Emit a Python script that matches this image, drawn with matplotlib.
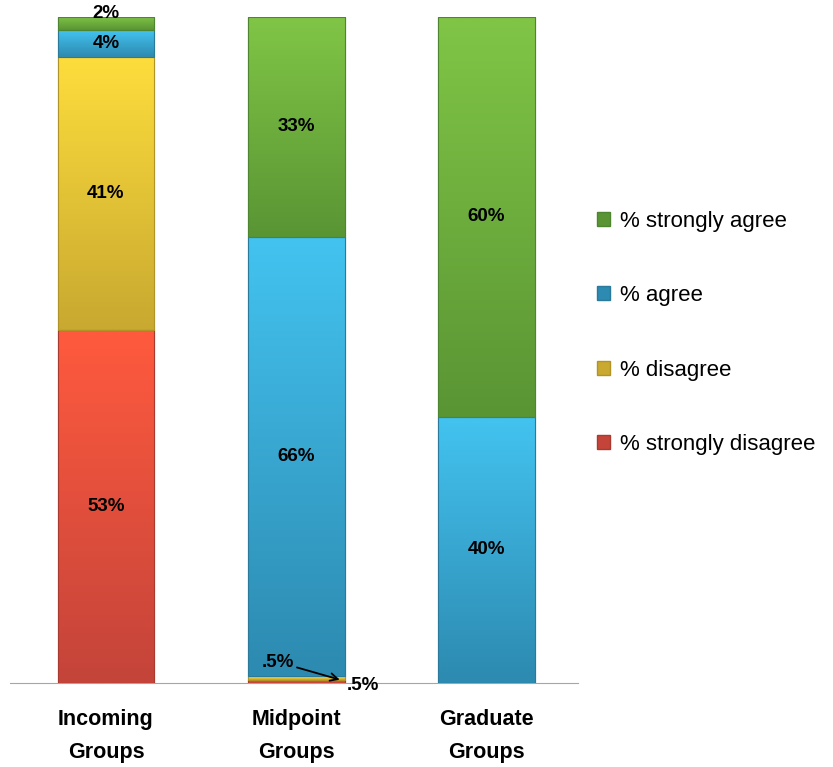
import numpy as np
import matplotlib
matplotlib.use("Agg")
import matplotlib.pyplot as plt
from matplotlib.colors import to_rgb
from matplotlib.patches import Patch

plt.rcParams['font.family'] = ['Liberation Sans', 'DejaVu Sans']

groups = ['Incoming\nGroups', 'Midpoint\nGroups', 'Graduate\nGroups']
series = ['% strongly disagree', '% disagree', '% agree', '% strongly agree']
strongly_disagree = [53, 0.5, 0]
disagree = [41, 0.5, 0]
agree = [4, 66, 40]
strongly_agree = [2, 33, 60]
values = [strongly_disagree, disagree, agree, strongly_agree]

# top / bottom colour of each gradient segment
tops = ['#FF5A3E', '#FDDD3C', '#43C3F0', '#80C546']
bottoms = ['#C4443A', '#C9A930', '#2D8AB0', '#5A9534']
edges = ['#A83A30', '#B09428', '#2A7A9C', '#4E8530']

fig = plt.figure(figsize=(8.33, 7.67), dpi=100)
ax = fig.add_axes([0.012, 0.1095, 0.682, 0.8683])

x = np.arange(len(groups))
width = 0.51
bottom = np.zeros(len(groups))
for vals, top_c, bot_c, edge_c in zip(values, tops, bottoms, edges):
    bars = ax.bar(x, vals, width, bottom=bottom, color=bot_c, edgecolor=edge_c, linewidth=0.8, zorder=2)
    grad = np.linspace(0, 1, 64)[:, None, None]
    img = (1 - grad) * np.array(to_rgb(top_c)) + grad * np.array(to_rgb(bot_c))
    for b in bars:
        if b.get_height() <= 0:
            continue
        im = ax.imshow(img, extent=[b.get_x(), b.get_x() + b.get_width(), b.get_y(), b.get_y() + b.get_height()],
                       aspect='auto', zorder=2.1, interpolation='bilinear')
        im.set_clip_path(b)
        # thin frame on top of the gradient
        ax.add_patch(plt.Rectangle((b.get_x(), b.get_y()), b.get_width(), b.get_height(), fill=False,
                                   edgecolor=edge_c, linewidth=0.8, zorder=2.2))
    # data labels
    for i, v in enumerate(vals):
        if v >= 3:
            ax.text(x[i], bottom[i] + v / 2, f'{v:g}%', ha='center', va='center',
                    fontsize=13.5, fontweight='bold', zorder=3)
        elif v >= 1:
            ax.text(x[i], bottom[i] + v + 0.6, f'{v:g}%', ha='center', va='center',
                    fontsize=13.5, fontweight='bold', zorder=3)
    bottom += np.array(vals)

# the two half-percent segments in the midpoint bar
ax.annotate('.5%', xy=(1.23, 0.5), xytext=(0.905, 3.15), ha='center', va='center',
            fontsize=13.5, fontweight='bold', zorder=3,
            arrowprops=dict(arrowstyle='->', color='black', lw=1.3, shrinkA=0, shrinkB=0))
ax.text(1.35, -0.4, '.5%', ha='center', va='center', fontsize=13.5, fontweight='bold', zorder=3)

ax.set_xlim(-0.505, 2.484)
ax.set_ylim(0, 100)
ax.set_xticks(x)
ax.set_xticklabels(groups, fontsize=15.5, fontweight='bold', linespacing=1.75)
ax.tick_params(axis='x', length=0, pad=18.5)
ax.set_yticks([])
for s in ['top', 'left', 'right']:
    ax.spines[s].set_visible(False)
ax.spines['bottom'].set_color('#A6A6A6')
ax.spines['bottom'].set_zorder(1)

handles = [Patch(facecolor=bottoms[k], edgecolor=edges[k], label=series[k]) for k in [3, 2, 1, 0]]
fig.legend(handles=handles, loc='center left', bbox_to_anchor=(0.706, 0.566), frameon=False,
           fontsize=16, handlelength=0.6, handleheight=0.6, handletextpad=0.45, labelspacing=2.4,
           borderaxespad=0)

fig.savefig('out.png', dpi=100)
